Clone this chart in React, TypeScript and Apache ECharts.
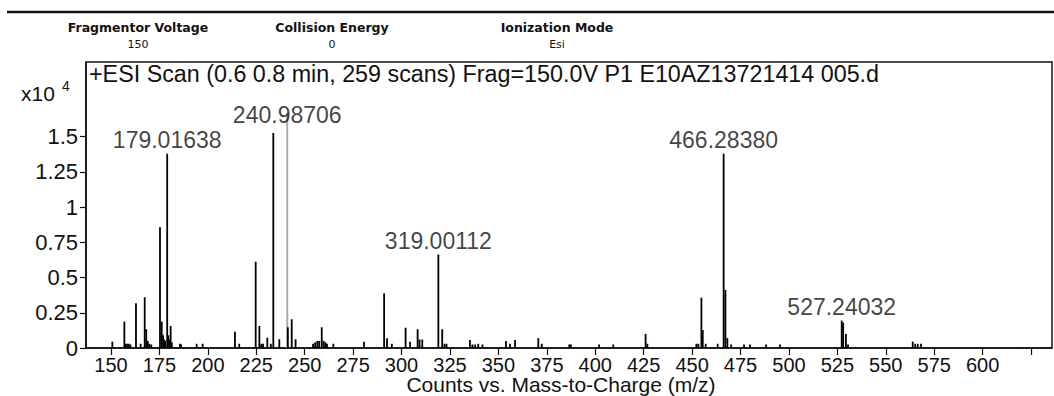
import { useEffect, useRef } from "react";
import * as echarts from "echarts";

// m/z of minor peaks and their counts (x10^4)
const peakMz = [
  150.7, 156.9, 157.6, 158.3, 159.2, 160.0, 162.9, 165.3, 167.4, 168.2, 169.0, 169.8, 170.8,
  175.3, 176.2, 176.9, 177.5, 178.0, 179.6, 180.2, 180.8, 181.4, 185.6, 186.2, 194.2, 197.3,
  214.0, 216.2, 224.7, 226.6, 227.6, 228.5, 230.7, 232.5, 233.8, 236.9, 241.3, 243.3, 245.3,
  254.3, 255.4, 256.5, 257.5, 258.8, 259.8, 260.7, 261.5, 264.8, 280.6, 291.0, 292.5, 295.0,
  302.1, 304.4, 308.3, 309.3, 310.7, 321.0, 322.2, 323.2, 335.3, 336.6, 338.0, 339.6, 341.8,
  353.9, 356.0, 358.6, 370.6, 372.4, 386.6, 387.4, 402.0, 409.3, 426.0, 426.9, 452.2, 453.2,
  454.8, 455.5, 457.0, 463.2, 467.2, 468.2, 470.2, 476.8, 479.9, 488.2, 495.4, 528.0, 529.4,
  530.5, 563.9, 565.2, 566.5, 568.2,
];
const peakCounts = [
  0.045, 0.187, 0.03, 0.03, 0.03, 0.025, 0.317, 0.03, 0.36, 0.133, 0.05, 0.03, 0.025,
  0.857, 0.187, 0.09, 0.06, 0.05, 0.09, 0.06, 0.156, 0.04, 0.03, 0.025, 0.03, 0.03,
  0.116, 0.03, 0.613, 0.156, 0.03, 0.03, 0.073, 0.03, 1.526, 0.062, 0.147, 0.204, 0.062,
  0.03, 0.04, 0.05, 0.05, 0.147, 0.05, 0.04, 0.03, 0.03, 0.045, 0.388, 0.07, 0.03,
  0.144, 0.045, 0.133, 0.06, 0.06, 0.133, 0.03, 0.03, 0.057, 0.025, 0.025, 0.03, 0.025,
  0.05, 0.03, 0.057, 0.07, 0.03, 0.025, 0.025, 0.025, 0.025, 0.1, 0.03, 0.03, 0.03,
  0.357, 0.128, 0.03, 0.03, 0.412, 0.07, 0.025, 0.025, 0.025, 0.025, 0.025, 0.18, 0.1,
  0.025, 0.045, 0.03, 0.03, 0.03,
];

// annotated peaks
const labeledMz = [179.01638, 319.00112, 466.2838, 527.24032];
const labeledCounts = [1.379, 0.664, 1.379, 0.195];

// highlighted ion
const markerMz = [240.98706];
const markerCounts = [1.669];

const xTickValues = [150, 175, 200, 225, 250, 275, 300, 325, 350, 375, 400, 425, 450, 475, 500, 525, 550, 575, 600, 625];
const xLabelValues = [150, 175, 200, 225, 250, 275, 300, 325, 350, 375, 400, 425, 450, 475, 500, 525, 550, 575, 600];
const yTickValues = [0, 0.25, 0.5, 0.75, 1, 1.25, 1.5];

const titleText = "+ESI Scan (0.6 0.8 min, 259 scans) Frag=150.0V P1 E10AZ13721414 005.d";
const headerNames = ["Fragmentor Voltage", "Collision Energy", "Ionization Mode"];
const headerValues = ["150", "0", "Esi"];

const FONT = "'Liberation Sans', Arial, sans-serif";
const INK = "#111";

function stickItem(color: string, width: number) {
  return (_params: any, api: any) => {
    const x = api.value(0);
    const v = api.value(1);
    const base = api.coord([x, 0]);
    const top = api.coord([x, v]);
    return {
      type: "rect",
      shape: { x: base[0] - width / 2, y: top[1], width, height: base[1] - top[1] },
      style: { fill: color },
    };
  };
}

export default function App() {
  const ref = useRef<HTMLDivElement>(null);

  useEffect(() => {
    if (!ref.current) return;
    const chart = echarts.init(ref.current, null, { renderer: "svg" });

    const peaks = peakMz.map((m, i) => [m, peakCounts[i]]);
    const labeled = labeledMz.map((m, i) => [m, labeledCounts[i]]);
    const marker = markerMz.map((m, i) => [m, markerCounts[i]]);

    const headerCenters = [138, 332, 557];
    const headerGraphics: any[] = [];
    headerNames.forEach((n, i) => {
      headerGraphics.push({
        type: "text",
        x: headerCenters[i],
        y: 27,
        style: {
          text: n,
          fontFamily: "'DejaVu Sans', sans-serif",
          fontWeight: "bold",
          fontSize: 12.5,
          fill: INK,
          align: "center",
          verticalAlign: "middle",
        },
      });
      headerGraphics.push({
        type: "text",
        x: headerCenters[i],
        y: 44,
        style: {
          text: headerValues[i],
          fontFamily: "'DejaVu Sans', sans-serif",
          fontSize: 11,
          fill: INK,
          align: "center",
          verticalAlign: "middle",
        },
      });
    });

    const labelStyle = {
      show: true,
      position: "top" as const,
      fontFamily: FONT,
      fontSize: 23,
      color: INK,
      formatter: (p: any) => p.value[0].toFixed(5),
    };

    chart.setOption({
      animation: false,
      backgroundColor: "#fff",
      grid: {
        left: 86,
        right: 2,
        top: 62,
        bottom: 48,
        show: true,
        borderColor: INK,
        borderWidth: 1.5,
        containLabel: false,
        outerBoundsMode: "none",
      },
      xAxis: {
        type: "value",
        min: 137.1,
        max: 635.8,
        name: "Counts vs. Mass-to-Charge (m/z)",
        nameLocation: "middle",
        nameGap: 28,
        nameMoveOverlap: false,
        nameTextStyle: { fontFamily: FONT, fontSize: 21, lineHeight: 17, color: INK, padding: [0, 16, 0, 0] },
        axisLine: { show: true, lineStyle: { color: INK, width: 1.5 } },
        axisTick: { show: true, length: 7, lineStyle: { color: INK, width: 1.2 }, customValues: xTickValues },
        axisLabel: {
          fontFamily: FONT,
          fontSize: 20,
          lineHeight: 17,
          color: INK,
          margin: 8,
          customValues: xLabelValues,
        },
        splitLine: { show: false },
      },
      yAxis: {
        type: "value",
        min: 0,
        max: 2.03,
        axisLine: { show: true, lineStyle: { color: INK, width: 1.5 } },
        axisTick: { show: true, length: 6, lineStyle: { color: INK, width: 1.2 }, customValues: yTickValues },
        axisLabel: {
          fontFamily: FONT,
          fontSize: 22,
          color: INK,
          margin: 8,
          customValues: yTickValues,
          formatter: (v: number) => String(v),
        },
        splitLine: { show: false },
      },
      graphic: [
        { type: "line", shape: { x1: 7, y1: 12, x2: 1054, y2: 12 }, style: { stroke: INK, lineWidth: 2.5 } },
        ...headerGraphics,
        {
          type: "text",
          x: 89,
          y: 74,
          style: { text: titleText, fontFamily: FONT, fontSize: 23.3, fill: INK, verticalAlign: "middle" },
        },
        {
          type: "text",
          x: 21,
          y: 93,
          style: { text: "x10", fontFamily: FONT, fontSize: 21, fill: INK, verticalAlign: "middle" },
        },
        {
          type: "text",
          x: 62,
          y: 86,
          style: { text: "4", fontFamily: FONT, fontSize: 14, fill: INK, verticalAlign: "middle" },
        },
      ],
      series: [
        {
          type: "custom",
          name: "marker",
          data: marker,
          renderItem: stickItem("#aaa", 2),
          encode: { x: 0, y: 1 },
          z: 1,
        },
        {
          type: "custom",
          name: "peaks",
          data: peaks,
          renderItem: stickItem("#000", 1.8),
          encode: { x: 0, y: 1 },
          z: 2,
        },
        {
          type: "custom",
          name: "labeled",
          data: labeled,
          renderItem: stickItem("#000", 1.8),
          encode: { x: 0, y: 1 },
          z: 2,
        },
        {
          type: "scatter",
          data: labeled,
          symbolSize: 0,
          z: 3,
          label: { ...labelStyle, distance: 2 },
        },
        {
          type: "scatter",
          data: marker,
          symbolSize: 0,
          z: 3,
          label: { ...labelStyle, distance: -14 },
        },
      ],
    });

    return () => chart.dispose();
  }, []);

  return (
    <div
      ref={ref}
      style={{ position: "fixed", left: 0, top: 0, width: 1054, height: 396, background: "#fff" }}
    />
  );
}
